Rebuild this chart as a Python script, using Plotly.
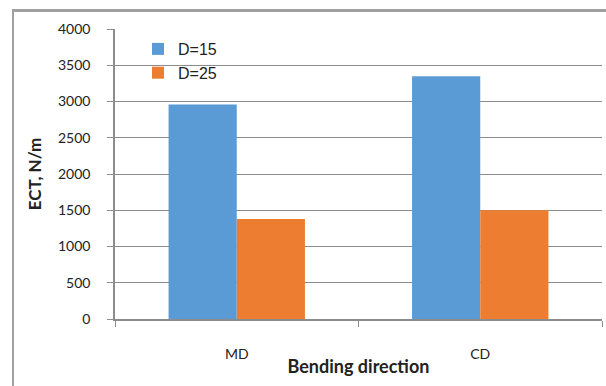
import plotly.graph_objects as go

categories = ["MD", "CD"]
d15 = [2960, 3350]
d25 = [1380, 1500]
series_names = ["D=15", "D=25"]
y_ticks = [0, 500, 1000, 1500, 2000, 2500, 3000, 3500, 4000]

W, H = 606, 386
L, R, T, B = 115, 4, 29, 67
pw, ph = W - L - R, H - T - B

fig = go.Figure()
fig.add_trace(go.Bar(x=categories, y=d15, name=series_names[0], marker=dict(color="#5b9bd5", line=dict(width=0))))
fig.add_trace(go.Bar(x=categories, y=d25, name=series_names[1], marker=dict(color="#ed7d31", line=dict(width=0))))

font_main = "Lato, 'Open Sans', sans-serif"
fig.update_layout(
    width=W, height=H,
    margin=dict(l=L, r=R, t=T, b=B, autoexpand=False),
    paper_bgcolor="white", plot_bgcolor="white",
    barmode="group", bargap=0.44, bargroupgap=0,
    showlegend=True,
    legend=dict(x=(138 - L) / pw, y=1 - (32 - T) / ph, xanchor="left", yanchor="top",
                bgcolor="rgba(0,0,0,0)", font=dict(family="Liberation Sans, Arial", size=16, color="#222"),
                itemsizing="constant", itemwidth=30, tracegroupgap=12),
    font=dict(family=font_main, color="#222"),
)
fig.update_xaxes(
    type="category", showline=True, linecolor="#8c8c8c", linewidth=1.5,
    ticks="outside", ticklen=6, tickcolor="#8c8c8c", tickson="boundaries",
    showgrid=False, tickfont=dict(size=14, family=font_main, color="#222"),
    ticklabelstandoff=21,
    title=dict(text="<b>Bending direction</b>", font=dict(size=18, family=font_main, color="#222"), standoff=0),
)
fig.update_yaxes(
    range=[0, 4000], tickvals=y_ticks, showline=True, linecolor="#8c8c8c", linewidth=1.5,
    ticks="outside", ticklen=6, tickcolor="#8c8c8c",
    showgrid=True, gridcolor="#8c8c8c", gridwidth=1.2, zeroline=False,
    tickfont=dict(size=14, family=font_main, color="#222"),
    ticklabelstandoff=14,
    title=dict(text="<b>ECT, N/m</b>", font=dict(size=17, family=font_main, color="#222"), standoff=12),
)
# outer chart frame: left and top edges (drawn as two separate lines)
fx0 = (13 - L) / pw
fy0 = 1 + (T - 11) / ph
fig.add_shape(type="line", xref="paper", yref="paper", x0=fx0, x1=1.05, y0=fy0, y1=fy0,
              line=dict(color="#a0a0a0", width=2), layer="above")
fig.add_shape(type="line", xref="paper", yref="paper", x0=fx0, x1=fx0, y0=fy0, y1=-0.3,
              line=dict(color="#a0a0a0", width=2), layer="above")

frame_js = (
    "document.body.style.margin='0';document.body.style.overflow='hidden';"
    "var f=document.createElement('div');"
    "f.style.cssText='position:absolute;left:12px;top:9px;width:640px;height:420px;"
    "border-left:2px solid #a0a0a0;border-top:2px solid #a0a0a0;pointer-events:none;box-sizing:border-box;';"
    "document.body.appendChild(f);"
)
fig.write_html("out.html", config={"displayModeBar": False}, post_script=frame_js)
